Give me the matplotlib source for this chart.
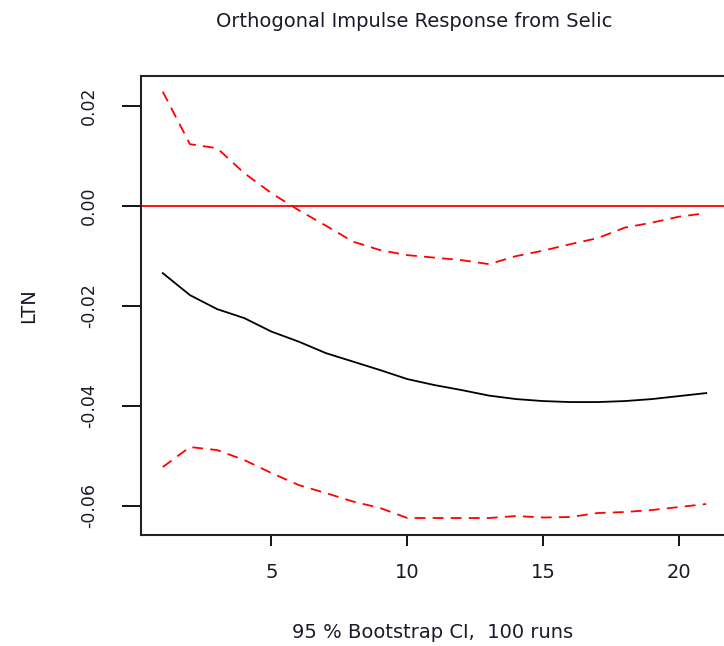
import matplotlib
matplotlib.use("Agg")
import matplotlib.pyplot as plt
import numpy as np

plt.rcParams["font.family"] = ["DejaVu Sans"]

horizon = list(range(1, 22))

irf = [-0.0135, -0.0179, -0.0207, -0.0225, -0.0252, -0.0272, -0.0295,
       -0.0312, -0.0329, -0.0347, -0.0359, -0.0369, -0.0380, -0.0387,
       -0.0391, -0.0393, -0.0393, -0.0391, -0.0387, -0.0381, -0.0375]

upper = [0.0228, 0.0123, 0.0115, 0.0065, 0.0025, -0.0009, -0.0040,
         -0.0072, -0.0089, -0.0099, -0.0104, -0.0109, -0.0117, -0.0101,
         -0.0090, -0.0077, -0.0065, -0.0044, -0.0034, -0.0022, -0.0015]

lower = [-0.0523, -0.0483, -0.0489, -0.0509, -0.0535, -0.0559, -0.0575,
         -0.0592, -0.0605, -0.0625, -0.0625, -0.0625, -0.0625, -0.0621,
         -0.0624, -0.0623, -0.0615, -0.0613, -0.0609, -0.0603, -0.0597]

yticks = [0.02, 0.00, -0.02, -0.04, -0.06]
xticks = [5, 10, 15, 20]

TXT = "#1a1a2a"

fig = plt.figure(figsize=(7.24, 6.46), dpi=100)
ax = fig.add_axes([0.1948, 0.1718, 0.8107, 0.711])

ax.plot(horizon, irf, color="black", linewidth=1.3)
ax.plot(horizon, upper, color="red", linewidth=1.3, linestyle=(0, (6, 4)))
ax.plot(horizon, lower, color="red", linewidth=1.3, linestyle=(0, (6, 4)))
ax.axhline(0.0, color="red", linewidth=1.3)

# R-style 4% padding around the data range
ax.set_xlim(0.2, 21.8)
ax.set_ylim(-0.0659, 0.0260)

ax.set_xticks(xticks)
ax.set_xticklabels([str(t) for t in xticks], fontsize=14, color=TXT)
ax.set_yticks(yticks)
ax.set_yticklabels([f"{t:.2f}" for t in yticks], fontsize=12.5, color=TXT,
                   rotation=90, va="center")
ax.tick_params(axis="x", length=8, width=1.3, pad=12)
ax.tick_params(axis="y", length=14, width=1.3, pad=17)

for s in ax.spines.values():
    s.set_linewidth(1.5)
    s.set_color("#222222")

ax.set_ylabel("LTN", fontsize=14, labelpad=30, color=TXT)
fig.text(0.597, 1 - 633 / 646, "95 % Bootstrap CI,  100 runs",
         ha="center", va="center", fontsize=14, color=TXT)
fig.text(0.572, 0.966, "Orthogonal Impulse Response from Selic",
         ha="center", va="center", fontsize=14, color=TXT)

fig.savefig("out.png", dpi=100)
